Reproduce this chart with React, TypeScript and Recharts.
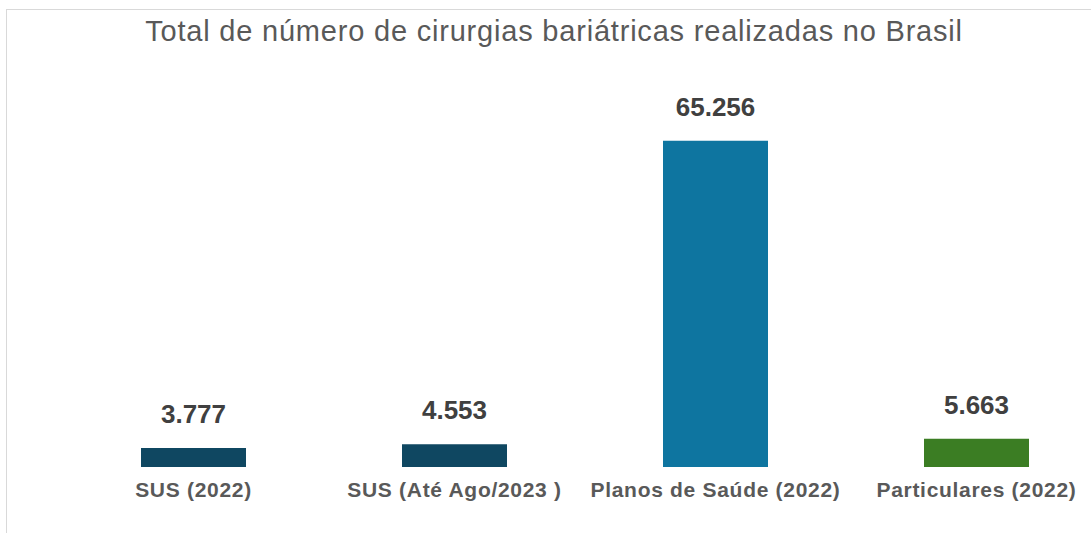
import { BarChart, Bar, XAxis, YAxis, Cell, LabelList } from "recharts";

const categories = [
  "SUS (2022)",
  "SUS (Até Ago/2023 )",
  "Planos de Saúde (2022)",
  "Particulares (2022)",
];
const surgeries = [3777, 4553, 65256, 5663];
const barColors = ["#0f4761", "#0f4761", "#0e75a0", "#3b7d23"];

const data = categories.map((name, i) => ({ name, value: surgeries[i] }));

const fmt = (v: number) => String(v).replace(/\B(?=(\d{3})+(?!\d))/g, ".");

export default function App() {
  return (
    <div
      style={{
        position: "fixed",
        left: 0,
        top: 0,
        width: 1091,
        height: 533,
        overflow: "hidden",
        background: "#fff",
        fontFamily: "'Liberation Sans', Arial, sans-serif",
      }}
    >
      <div
        style={{
          position: "absolute",
          left: 6,
          top: 9,
          width: 1100,
          height: 560,
          border: "1px solid #d9d9d9",
          background: "#fff",
        }}
      >
        <div
          style={{
            position: "absolute",
            left: -3,
            top: 5,
            width: 1100,
            textAlign: "center",
            fontSize: 29,
            letterSpacing: 0.8,
            color: "#595959",
          }}
        >
          Total de número de cirurgias bariátricas realizadas no Brasil
        </div>
        <BarChart
          width={1100}
          height={523}
          data={data}
          margin={{ top: 107, right: 0, bottom: 26, left: 56 }}
          barCategoryGap={78}
        >
          <YAxis hide domain={[0, 70000]} />
          <XAxis
            dataKey="name"
            axisLine={false}
            tickLine={false}
            tickSize={0}
            tickMargin={15}
            height={40}
            interval={0}
            tick={{
              fill: "#595959",
              fontSize: 21,
              fontWeight: "bold",
              letterSpacing: 0.7,
            }}
          />
          <Bar dataKey="value" isAnimationActive={false}>
            {data.map((d, i) => (
              <Cell key={d.name} fill={barColors[i]} />
            ))}
            <LabelList
              dataKey="value"
              position="top"
              offset={25}
              formatter={(v: any) => fmt(Number(v))}
              style={{ fill: "#404040", fontSize: 26, fontWeight: "bold" }}
            />
          </Bar>
        </BarChart>
      </div>
    </div>
  );
}
